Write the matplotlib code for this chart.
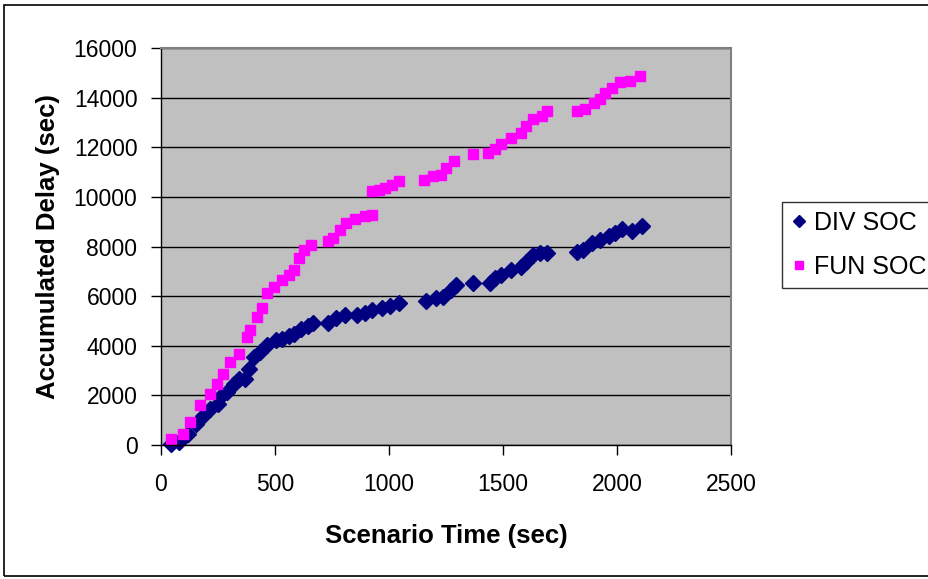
import matplotlib
matplotlib.use("Agg")
import matplotlib.pyplot as plt
from matplotlib.patches import Rectangle

plt.rcParams['font.family'] = ['Liberation Sans', 'DejaVu Sans']

# values (scenario time, accumulated delay)
div_time = [44, 81, 118, 155, 185, 214, 251, 259, 288, 318, 340, 370, 385, 407,
            436, 466, 503, 532, 562, 584, 614, 643, 666,
            732, 769, 806, 858, 895, 924, 969, 1006, 1043,
            1161, 1205, 1235, 1272, 1294,
            1368, 1441, 1463, 1493, 1537, 1581, 1603, 1632, 1662, 1691,
            1824, 1853, 1890, 1926, 1963, 1993, 2022, 2066, 2110]
div_delay = [40, 108, 445, 850, 1187, 1457, 1659, 1929, 2131, 2469, 2671, 2671, 3076, 3548,
             3750, 4020, 4222, 4290, 4384, 4492, 4668, 4789, 4897,
             4897, 5099, 5234, 5234, 5302, 5436, 5504, 5598, 5706,
             5801, 5909, 5976, 6246, 6448,
             6516, 6516, 6718, 6853, 7055, 7190, 7393, 7662, 7730, 7730,
             7797, 7865, 8135, 8269, 8404, 8539, 8701, 8606, 8809]

fun_time = [44, 96, 126, 170, 214, 244, 274, 303, 340, 377, 392, 421, 444, 466,
            495, 532, 562, 584, 606, 629, 658,
            732, 754, 784, 813, 850, 895, 924,
            924, 954, 984, 1013, 1043,
            1154, 1191, 1228, 1250, 1287,
            1368, 1434, 1463, 1493, 1537, 1581, 1603, 1632, 1669, 1691,
            1824, 1860, 1897, 1926, 1949, 1978, 2015, 2059, 2103]
fun_delay = [243, 445, 917, 1592, 2064, 2469, 2873, 3346, 3683, 4357, 4627, 5167, 5504, 6111,
             6381, 6651, 6853, 7055, 7527, 7865, 8067,
             8202, 8337, 8674, 8944, 9119, 9214, 9281,
             10225, 10293, 10360, 10468, 10630,
             10698, 10832, 10900, 11170, 11440,
             11710, 11777, 11912, 12114, 12384, 12586, 12856, 13126, 13261, 13463,
             13463, 13530, 13800, 13935, 14205, 14407, 14610, 14677, 14880]

fig = plt.figure(figsize=(9.29, 5.79), dpi=100)
ax = fig.add_axes([161 / 929, 1 - 445 / 579, 570 / 929, 397 / 579])
ax.set_facecolor('#C0C0C0')

ax.plot(div_time, div_delay, linestyle='none', marker='D', ms=8,
        color='#000080', label='DIV SOC', clip_on=False)
ax.plot(fun_time, fun_delay, linestyle='none', marker='s', ms=7.5,
        color='#FF00FF', label='FUN SOC', clip_on=False)

ax.set_xlim(0, 2500)
ax.set_ylim(0, 16000)
ax.set_xticks(range(0, 2501, 500))
ax.set_yticks(range(0, 16001, 2000))
ax.yaxis.grid(True, color='black', linewidth=1)
ax.set_axisbelow(True)

for side in ['top', 'right']:
    ax.spines[side].set_color('#808080')
    ax.spines[side].set_linewidth(1.5)
for side in ['left', 'bottom']:
    ax.spines[side].set_color('black')
    ax.spines[side].set_linewidth(1)

ax.tick_params(direction='out', length=7, width=1, labelsize=16.5)
ax.tick_params(axis='x', pad=13)
ax.tick_params(axis='y', pad=10)
ax.set_xlabel('Scenario Time (sec)', fontsize=18.5, fontweight='bold', labelpad=20)
ax.set_ylabel('Accumulated Delay (sec)', fontsize=18.5, fontweight='bold', labelpad=10)

leg = ax.legend(loc='upper left', bbox_to_anchor=(782 / 929, 1 - 202 / 579),
                bbox_transform=fig.transFigure, fontsize=18, frameon=True,
                fancybox=False, edgecolor='black', handletextpad=0.25,
                handlelength=0.7, borderpad=0.35, labelspacing=0.8,
                borderaxespad=0, markerscale=0.8)
leg.get_frame().set_linewidth(1)

# outer chart border
fig.patches.append(Rectangle((4 / 929, 3 / 579), 930 / 929, 571 / 579,
                             transform=fig.transFigure, fill=False,
                             edgecolor='black', linewidth=1.2))

fig.savefig('out.png', dpi=100)
